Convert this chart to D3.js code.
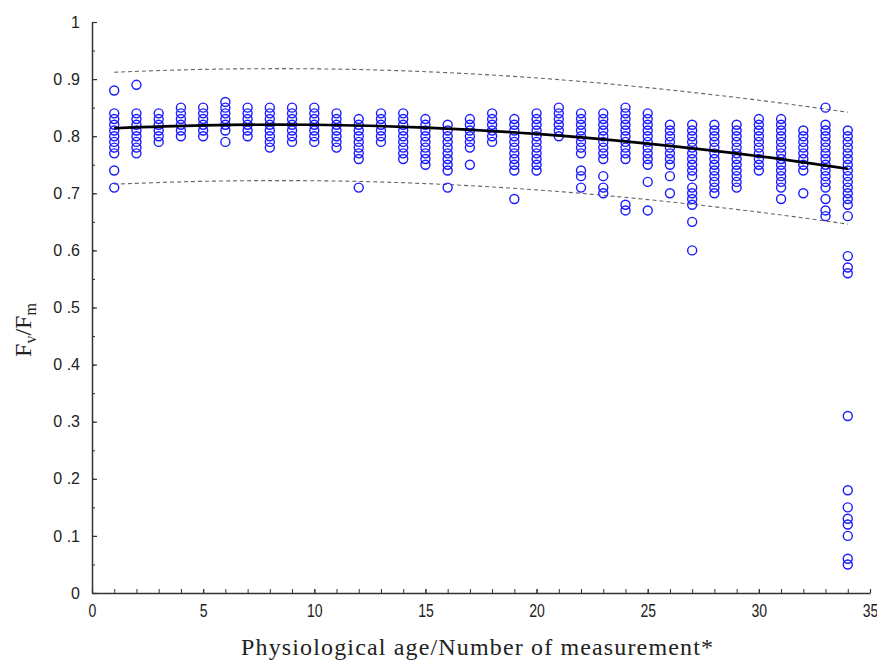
<!DOCTYPE html>
<html>
<head>
<meta charset="utf-8">
<script src="https://cdn.jsdelivr.net/npm/d3@7"></script>
<style>
  body { margin: 0; background: #fff; }
  svg { display: block; }
</style>
</head>
<body>
<div id="chart"></div>
<script>
// physiological age (measurement number) for each column of points
var ages = [1,2,3,4,5,6,7,8,9,10,11,12,13,14,15,16,17,18,19,20,21,22,23,24,25,26,27,28,29,30,31,32,33,34];

// Fv/Fm readings per measurement, same order as ages
var fvfm = [
  [.88,.84,.83,.82,.81,.80,.79,.78,.77,.74,.71],
  [.89,.84,.83,.82,.81,.80,.79,.78,.77],
  [.84,.83,.82,.81,.80,.79],
  [.85,.84,.83,.82,.81,.80],
  [.85,.84,.83,.82,.81,.80],
  [.86,.85,.84,.83,.82,.81,.79],
  [.85,.84,.83,.82,.81,.80],
  [.85,.84,.83,.82,.81,.80,.79,.78],
  [.85,.84,.83,.82,.81,.80,.79],
  [.85,.84,.83,.82,.81,.80,.79],
  [.84,.83,.82,.81,.80,.79,.78],
  [.83,.82,.81,.80,.79,.78,.77,.76,.71],
  [.84,.83,.82,.81,.80,.79],
  [.84,.83,.82,.81,.80,.79,.78,.77,.76],
  [.83,.82,.81,.80,.79,.78,.77,.76,.75],
  [.82,.81,.80,.79,.78,.77,.76,.75,.74,.71],
  [.83,.82,.81,.80,.79,.78,.75],
  [.84,.83,.82,.81,.80,.79],
  [.83,.82,.81,.80,.79,.78,.77,.76,.75,.74,.69],
  [.84,.83,.82,.81,.80,.79,.78,.77,.76,.75,.74],
  [.85,.84,.83,.82,.81,.80],
  [.84,.83,.82,.81,.80,.79,.78,.77,.74,.73,.71],
  [.84,.83,.82,.81,.80,.79,.78,.77,.76,.73,.71,.70],
  [.85,.84,.83,.82,.81,.80,.79,.78,.77,.76,.68,.67],
  [.84,.83,.82,.81,.80,.79,.78,.77,.76,.75,.72,.67],
  [.82,.81,.80,.79,.78,.77,.76,.75,.73,.70],
  [.82,.81,.80,.79,.78,.77,.76,.75,.74,.73,.71,.70,.69,.68,.65,.60],
  [.82,.81,.80,.79,.78,.77,.76,.75,.74,.73,.72,.71,.70],
  [.82,.81,.80,.79,.78,.77,.76,.75,.74,.73,.72,.71],
  [.83,.82,.81,.80,.79,.78,.77,.76,.75,.74],
  [.83,.82,.81,.80,.79,.78,.77,.76,.75,.74,.73,.72,.71,.69],
  [.81,.80,.79,.78,.77,.76,.75,.74,.70],
  [.85,.82,.81,.80,.79,.78,.77,.76,.75,.74,.73,.72,.71,.69,.67,.66],
  [.81,.80,.79,.78,.77,.76,.75,.74,.73,.72,.71,.70,.69,.68,.66,.59,.57,.56,.31,.18,.15,.13,.12,.10,.06,.05]
];

// fitted curve and dashed band
var fitAge   = [1, 5, 10, 15, 20, 25, 30, 34];
var fitMean  = [0.814, 0.819, 0.820, 0.815, 0.804, 0.787, 0.765, 0.743];
var fitUpper = [0.912, 0.917, 0.918, 0.913, 0.902, 0.885, 0.863, 0.842];
var fitLower = [0.716, 0.721, 0.722, 0.717, 0.706, 0.689, 0.667, 0.646];

var xTicks = [0, 5, 10, 15, 20, 25, 30, 35];
var yTicks = [0, 0.1, 0.2, 0.3, 0.4, 0.5, 0.6, 0.7, 0.8, 0.9, 1];

var width = 877, height = 660;

var svg = d3.select("#chart").append("svg")
    .attr("width", width)
    .attr("height", height);

var x = d3.scaleLinear().domain([0, 35]).range([92, 870]);
var y = d3.scaleLinear().domain([0, 1]).range([593, 22]);

// flatten into points
var points = [];
ages.forEach(function(a, i) {
  fvfm[i].forEach(function(v) { points.push({age: a, v: v}); });
});

// minor ticks first (no labels)
svg.append("g")
    .attr("transform", "translate(0,593)")
    .call(d3.axisBottom(x).ticks(35).tickSize(-4).tickFormat(""))
    .call(function(g) { g.select(".domain").remove(); })
    .selectAll("line").attr("stroke", "#333");

svg.append("g")
    .attr("transform", "translate(92,0)")
    .call(d3.axisLeft(y).tickValues(d3.range(0, 1.001, 0.05)).tickSize(-3).tickFormat(""))
    .call(function(g) { g.select(".domain").remove(); })
    .selectAll("line").attr("stroke", "#333");

var xAxis = svg.append("g")
    .attr("transform", "translate(0,593)")
    .call(d3.axisBottom(x).tickValues(xTicks).tickSizeInner(-4).tickSizeOuter(0).tickPadding(11));

var yAxis = svg.append("g")
    .attr("transform", "translate(92,0)")
    .call(d3.axisLeft(y).tickValues(yTicks).tickSizeInner(-5).tickSizeOuter(0).tickPadding(12)
      .tickFormat(function(d) {
        if (d === 0) return "0";
        if (d === 1) return "1";
        return "0 ." + Math.round(d * 10);
      }));

[xAxis, yAxis].forEach(function(g) {
  g.select(".domain").attr("stroke", "#333").attr("stroke-width", 1.5);
  g.selectAll(".tick line").attr("stroke", "#333").attr("stroke-width", 1.2);
});
// narrow look for the x labels
xAxis.selectAll("text")
    .attr("font-family", "'Liberation Sans', Arial, sans-serif")
    .attr("font-size", 18)
    .attr("transform", "scale(0.78,1)")
    .attr("fill", "#222");
yAxis.selectAll("text")
    .attr("font-family", "'Liberation Sans', Arial, sans-serif")
    .attr("font-size", 16)
    .attr("fill", "#222");

// dashed band
var line = d3.line()
    .x(function(d) { return x(d[0]); })
    .y(function(d) { return y(d[1]); })
    .curve(d3.curveNatural);

[fitUpper, fitLower].forEach(function(band) {
  svg.append("path")
      .datum(fitAge.map(function(a, i) { return [a, band[i]]; }))
      .attr("d", line)
      .attr("fill", "none")
      .attr("stroke", "#666")
      .attr("stroke-width", 1.1)
      .attr("stroke-dasharray", "4,3");
});

// scatter
svg.append("g").selectAll("circle")
    .data(points)
    .join("circle")
    .attr("cx", function(d) { return x(d.age); })
    .attr("cy", function(d) { return y(d.v); })
    .attr("r", 4.5)
    .attr("fill", "none")
    .attr("stroke", "#1a1aff")
    .attr("stroke-width", 1.4);

// fit line
svg.append("path")
    .datum(fitAge.map(function(a, i) { return [a, fitMean[i]]; }))
    .attr("d", line)
    .attr("fill", "none")
    .attr("stroke", "#000")
    .attr("stroke-width", 2.6);

// axis titles
svg.append("text")
    .attr("x", 477)
    .attr("y", 655)
    .attr("text-anchor", "middle")
    .attr("font-family", "'Liberation Serif', 'DejaVu Serif', serif")
    .attr("font-size", 24)
    .attr("fill", "#222")
    .attr("textLength", 472)
    .attr("lengthAdjust", "spacing")
    .text("Physiological age/Number of measurement*");

var yt = svg.append("text")
    .attr("transform", "translate(31,330) rotate(-90)")
    .attr("text-anchor", "middle")
    .attr("font-family", "'Liberation Serif', 'DejaVu Serif', serif")
    .attr("font-size", 24)
    .attr("fill", "#222");
yt.append("tspan").text("F");
yt.append("tspan").attr("font-size", 16).attr("dy", 5).text("v");
yt.append("tspan").attr("dy", -5).text("/F");
yt.append("tspan").attr("font-size", 16).attr("dy", 5).text("m");
</script>
</body>
</html>
